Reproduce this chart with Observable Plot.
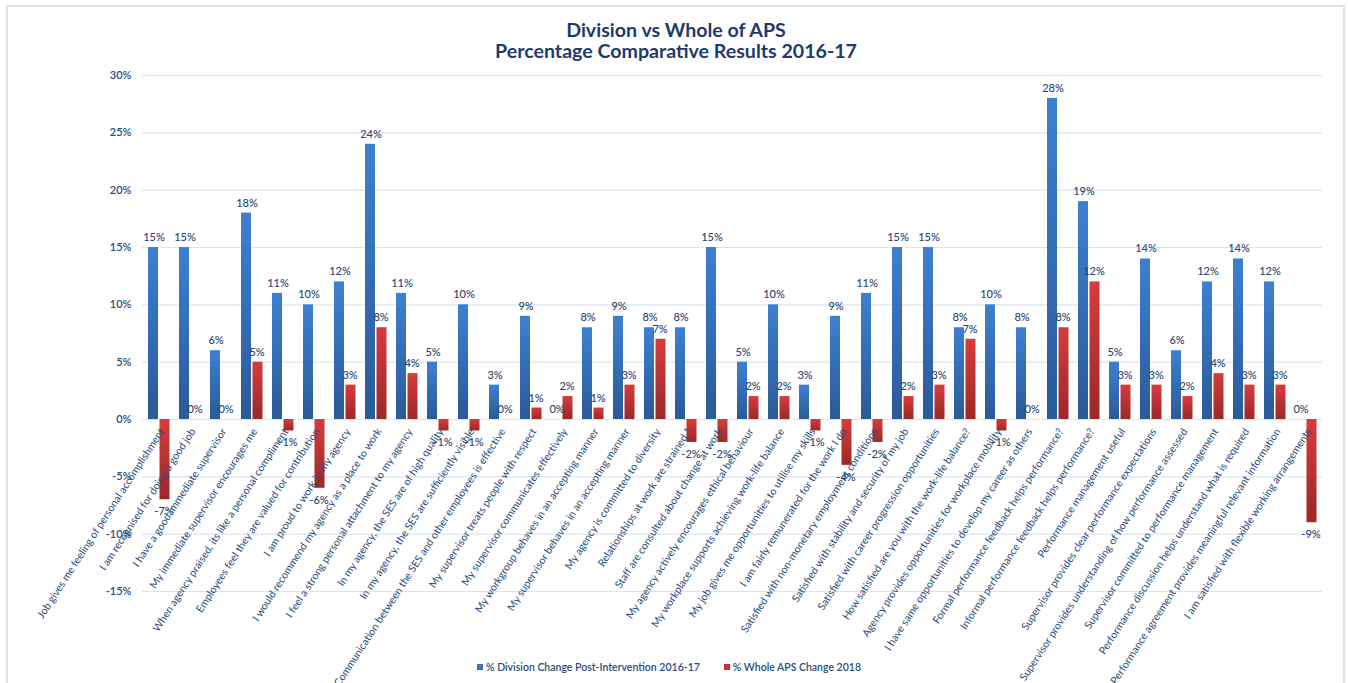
<!DOCTYPE html>
<html>
<head>
<meta charset="utf-8">
<script src="https://cdn.jsdelivr.net/npm/d3@7"></script>
<script src="https://cdn.jsdelivr.net/npm/@observablehq/plot@0.6"></script>
<style>
  body { margin: 0; background: #fff; font-family: Lato, "Open Sans", sans-serif; }
  #wrap { position: relative; width: 1348px; height: 683px; overflow: hidden; background: #fff; }
  #chart { position: absolute; left: 0; top: 0; }
  #frame { position: absolute; left: 6px; top: 5px; width: 1335px; height: 720px; border: 2px solid #DCE1E8; pointer-events: none; }
  .title { position: absolute; left: 0; width: 1352px; text-align: center; font-weight: 700; color: #1F3A6E; font-size: 19.6px; line-height: 22px; }
  #legend { position: absolute; top: 660px; left: 477px; font-size: 10.5px; color: #2B4C7E; font-weight: 600; white-space: nowrap; line-height: 14px; }
  #legend span.sw { display: inline-block; width: 6px; height: 6px; margin-right: 3px; vertical-align: 1px; }
  #legend span.item { margin-right: 24px; }
</style>
</head>
<body>
<div id="wrap">
  <div id="chart"></div>
  <div class="title" style="top:19px">Division vs Whole of APS</div>
  <div class="title" style="top:40px">Percentage Comparative Results 2016-17</div>
  <div id="legend"></div>
  <div id="frame"></div>
</div>
<script>
const categories = [
  "Job gives me feeling of personal accomplishment",
  "I am recognised for doing a good job",
  "I have a good immediate supervisor",
  "My immediate supervisor encourages me",
  "When agency praised, its like a personal compliment",
  "Employees feel they are valued for contribution",
  "I am proud to work in my agency",
  "I would recommend my agency as a place to work",
  "I feel a strong personal attachment to my agency",
  "In my agency, the SES are of high quality",
  "In my agency, the SES are sufficiently visible",
  "Communication between the SES and other employees is effective",
  "My supervisor treats people with respect",
  "My supervisor communicates effectively",
  "My workgroup behaves in an accepting manner",
  "My supervisor behaves in an accepting manner",
  "My agency is committed to diversity",
  "Relationships at work are strained *",
  "Staff are consulted about change at work",
  "My agency actively encourages ethical behaviour",
  "My workplace supports achieving work-life balance",
  "My job gives me opportunities to utilise my skills",
  "I am fairly remunerated for the work I do",
  "Satisfied with non-monetary employment conditions",
  "Satisfied with stability and security of my job",
  "Satisfied with career progression opportunities",
  "How satisfied are you with the work-life balance?",
  "Agency provides opportunities for workplace mobility",
  "I have same opportunities to develop my career as others",
  "Formal performance feedback helps performance?",
  "Informal performance feedback helps performance?",
  "Performance management useful",
  "Supervisor provides clear performance expectations",
  "Supervisor provides understanding of how performance assessed",
  "Supervisor committed to performance management",
  "Performance discussion helps understand what is required",
  "Performance agreement provides meaningful relevant information",
  "I am satisfied with flexible working arrangements"
];
const divisionChange = [15,15,6,18,11,10,12,24,11,5,10,3,9,0,8,9,8,8,15,5,10,3,9,11,15,15,8,10,8,28,19,5,14,6,12,14,12,0];
const apsChange = [-7,0,0,5,-1,-6,3,8,4,-1,-1,0,1,2,1,3,7,-2,-2,2,2,-1,-4,-2,2,3,7,-1,0,8,12,3,3,2,4,3,3,-9];
const seriesNames = ["% Division Change Post-Intervention 2016-17", "% Whole APS Change 2018"];
const yTicks = [-15,-10,-5,0,5,10,15,20,25,30];

const divData = categories.map((c, i) => ({cat: c, v: divisionChange[i]}));
const apsData = categories.map((c, i) => ({cat: c, v: apsChange[i]}));

const txt = "#2B4C7E";
const lbl = "#2B4470";
const chart = Plot.plot({
  width: 1348,
  height: 683,
  marginLeft: 142,
  marginRight: 26,
  marginTop: 75,
  marginBottom: 92,
  style: {background: "transparent", fontFamily: "Lato, 'Open Sans', sans-serif"},
  x: {type: "band", domain: categories, padding: 0, axis: null},
  y: {domain: [-15, 30], axis: null},
  marks: [
    Plot.ruleY(yTicks, {stroke: "#DCE4F1", strokeWidth: 1.2}),
    Plot.axisY(yTicks, {label: null, tickSize: 0, tickPadding: 11, tickFormat: d => d + "%", fontSize: 11, fontWeight: 600, color: txt}),
    Plot.barY(divData, {x: "cat", y: "v", fill: "url(#gBlue)", insetLeft: 5, insetRight: 16}),
    Plot.barY(apsData, {x: "cat", y: "v", fill: "url(#gRed)", insetLeft: 16.5, insetRight: 4.5}),
    Plot.text(categories, {x: d => d, y: () => 0, text: d => d, rotate: -57, textAnchor: "end", dx: 3, dy: 10, fontSize: 10.5, fill: txt}),
    Plot.text(divData, {x: "cat", y: "v", text: d => d.v + "%", dx: -5, dy: -10, fontSize: 11, fontWeight: 500, fill: lbl}),
    Plot.text(apsData, {x: "cat", y: "v", text: d => d.v + "%", dx: 5, dy: -10, filter: d => d.v >= 0, fontSize: 11, fontWeight: 500, fill: lbl}),
    Plot.text(apsData, {x: "cat", y: "v", text: d => d.v + "%", dx: 5, dy: 12, filter: d => d.v < 0, fontSize: 11, fontWeight: 500, fill: lbl})
  ]
});

d3.select(chart).insert("defs", ":first-child").html(`
  <linearGradient id="gBlue" x1="0" y1="0" x2="0" y2="1">
    <stop offset="0" stop-color="#3D80D2"/>
    <stop offset="1" stop-color="#2A5A98"/>
  </linearGradient>
  <linearGradient id="gRed" x1="0" y1="0" x2="0" y2="1">
    <stop offset="0" stop-color="#D73C3C"/>
    <stop offset="1" stop-color="#9C2828"/>
  </linearGradient>`);

document.getElementById("chart").appendChild(chart);

const colors = ["#3A74C4", "#C83232"];
document.getElementById("legend").innerHTML = seriesNames.map((s, i) =>
  `<span class="item"><span class="sw" style="background:${colors[i]}"></span>${s}</span>`).join("");
</script>
</body>
</html>
